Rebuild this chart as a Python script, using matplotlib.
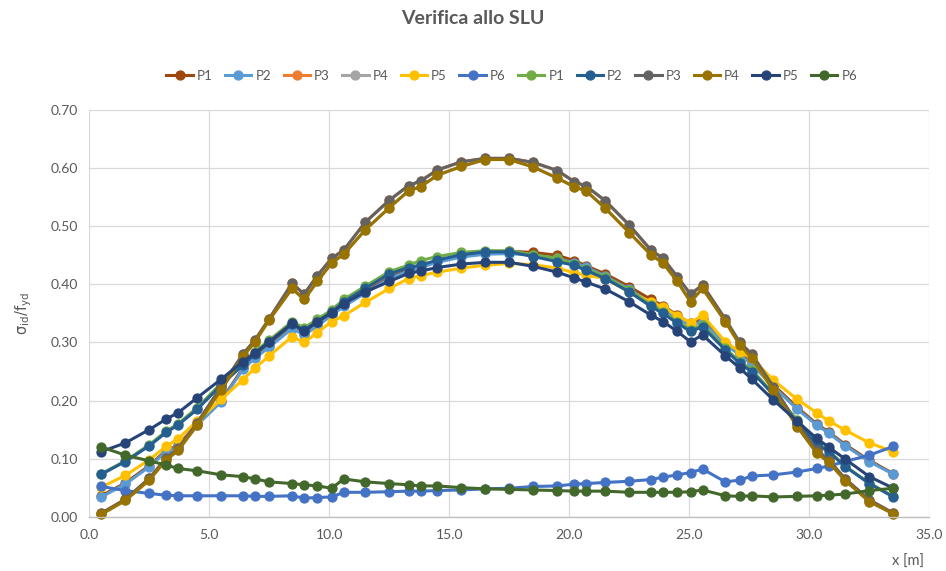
import matplotlib
matplotlib.use("Agg")
import matplotlib.pyplot as plt

plt.rcParams['font.family'] = ['Lato', 'DejaVu Sans']

# sezioni di verifica lungo la trave [m]
x = [0.5, 1.5, 2.5, 3.2, 3.7, 4.5, 5.5, 6.4, 6.9, 7.5, 8.45, 8.95, 9.5, 10.1, 10.6,
     11.5, 12.5, 13.3, 13.8, 14.5, 15.5, 16.5, 17.5, 18.5, 19.5, 20.2, 20.7, 21.5,
     22.5, 23.4, 23.9, 24.5, 25.05, 25.55, 26.5, 27.1, 27.6, 28.5, 29.5, 30.3, 30.8,
     31.5, 32.5, 33.5]

# prima serie di combinazioni
p1_a = [0.036, 0.058, 0.088, 0.114, 0.123, 0.160, 0.200, 0.256, 0.275, 0.294, 0.326,
        0.315, 0.330, 0.349, 0.364, 0.387, 0.412, 0.425, 0.431, 0.440, 0.449, 0.455,
        0.457, 0.455, 0.450, 0.441, 0.432, 0.418, 0.396, 0.374, 0.363, 0.347, 0.333,
        0.340, 0.299, 0.282, 0.265, 0.227, 0.188, 0.160, 0.146, 0.124, 0.097, 0.074]
p2_a = [0.034, 0.056, 0.086, 0.112, 0.121, 0.158, 0.198, 0.254, 0.273, 0.292, 0.324,
        0.313, 0.328, 0.347, 0.362, 0.385, 0.410, 0.423, 0.429, 0.438, 0.447, 0.452,
        0.453, 0.450, 0.445, 0.437, 0.430, 0.414, 0.392, 0.367, 0.357, 0.341, 0.329,
        0.336, 0.296, 0.279, 0.262, 0.224, 0.185, 0.158, 0.144, 0.122, 0.095, 0.073]
p5_a = [0.051, 0.071, 0.098, 0.121, 0.134, 0.165, 0.202, 0.236, 0.256, 0.277, 0.310,
        0.300, 0.317, 0.336, 0.346, 0.369, 0.393, 0.410, 0.415, 0.421, 0.428, 0.433,
        0.436, 0.434, 0.428, 0.420, 0.416, 0.410, 0.387, 0.370, 0.361, 0.346, 0.334,
        0.347, 0.301, 0.284, 0.273, 0.235, 0.202, 0.179, 0.165, 0.149, 0.127, 0.112]
p6_a = [0.052, 0.045, 0.040, 0.037, 0.036, 0.036, 0.036, 0.036, 0.035, 0.035, 0.036,
        0.032, 0.033, 0.034, 0.042, 0.042, 0.043, 0.044, 0.044, 0.045, 0.046, 0.048,
        0.049, 0.052, 0.053, 0.056, 0.057, 0.059, 0.061, 0.064, 0.068, 0.072, 0.076,
        0.082, 0.060, 0.063, 0.070, 0.072, 0.077, 0.083, 0.087, 0.095, 0.106, 0.121]

# P3 e P4 simmetriche: stessi valori nelle due serie
p3 = [0.006, 0.030, 0.066, 0.101, 0.118, 0.162, 0.224, 0.280, 0.304, 0.341, 0.402,
      0.383, 0.415, 0.445, 0.459, 0.507, 0.545, 0.570, 0.578, 0.597, 0.611, 0.617,
      0.617, 0.610, 0.596, 0.577, 0.569, 0.544, 0.502, 0.459, 0.445, 0.413, 0.383,
      0.399, 0.340, 0.300, 0.280, 0.224, 0.160, 0.115, 0.098, 0.065, 0.029, 0.006]
p4 = [0.004, 0.028, 0.063, 0.098, 0.114, 0.158, 0.219, 0.276, 0.301, 0.339, 0.393,
      0.374, 0.405, 0.437, 0.452, 0.494, 0.532, 0.561, 0.568, 0.588, 0.603, 0.615,
      0.615, 0.602, 0.583, 0.568, 0.561, 0.531, 0.489, 0.451, 0.437, 0.405, 0.370,
      0.393, 0.336, 0.296, 0.273, 0.218, 0.155, 0.110, 0.094, 0.062, 0.026, 0.005]

# seconda serie di combinazioni
p1_b = [0.074, 0.096, 0.124, 0.147, 0.160, 0.188, 0.230, 0.265, 0.284, 0.304, 0.336,
        0.325, 0.340, 0.356, 0.374, 0.397, 0.422, 0.433, 0.441, 0.448, 0.455, 0.458,
        0.458, 0.451, 0.445, 0.435, 0.427, 0.413, 0.390, 0.365, 0.353, 0.336, 0.322,
        0.330, 0.290, 0.267, 0.253, 0.212, 0.167, 0.127, 0.114, 0.087, 0.058, 0.035]
p2_b = [0.073, 0.095, 0.122, 0.145, 0.158, 0.185, 0.227, 0.261, 0.280, 0.300, 0.332,
        0.321, 0.336, 0.352, 0.370, 0.393, 0.418, 0.429, 0.433, 0.442, 0.451, 0.456,
        0.456, 0.448, 0.439, 0.433, 0.424, 0.410, 0.387, 0.362, 0.350, 0.333, 0.319,
        0.327, 0.287, 0.264, 0.250, 0.210, 0.162, 0.125, 0.112, 0.086, 0.057, 0.034]
p5_b = [0.112, 0.127, 0.150, 0.168, 0.179, 0.205, 0.237, 0.267, 0.282, 0.301, 0.333,
        0.319, 0.336, 0.351, 0.367, 0.387, 0.405, 0.419, 0.423, 0.429, 0.435, 0.438,
        0.438, 0.431, 0.421, 0.411, 0.404, 0.392, 0.370, 0.347, 0.336, 0.319, 0.301,
        0.313, 0.277, 0.256, 0.237, 0.201, 0.164, 0.135, 0.120, 0.099, 0.069, 0.049]
p6_b = [0.120, 0.106, 0.096, 0.089, 0.083, 0.079, 0.072, 0.069, 0.065, 0.060, 0.057,
        0.055, 0.053, 0.049, 0.065, 0.060, 0.057, 0.055, 0.053, 0.053, 0.050, 0.048,
        0.047, 0.046, 0.045, 0.044, 0.044, 0.044, 0.042, 0.042, 0.042, 0.042, 0.043,
        0.046, 0.036, 0.035, 0.036, 0.034, 0.035, 0.036, 0.037, 0.039, 0.045, 0.049]

labels = ['P1', 'P2', 'P3', 'P4', 'P5', 'P6'] * 2
series = [p1_a, p2_a, p3, p4, p5_a, p6_a, p1_b, p2_b, p3, p4, p5_b, p6_b]
colors = ['#9E480E', '#5B9BD5', '#ED7D31', '#A5A5A5', '#FFC000', '#4472C4',
          '#70AD47', '#255E91', '#636363', '#997300', '#264478', '#43682B']

grey_txt = '#595959'

fig = plt.figure(figsize=(9.46, 5.71), dpi=100)
ax = fig.add_axes([0.0944, 0.0951, 0.888, 0.712])

for vals, lab, col in zip(series, labels, colors):
    ax.plot(x, vals, '-o', color=col, lw=2.2, ms=6.4, label=lab, clip_on=False)

ax.set_xlim(0, 35)
ax.set_ylim(0, 0.70)
ax.set_xticks([i * 5.0 for i in range(8)])
ax.set_yticks([i * 0.1 for i in range(8)])
ax.xaxis.set_major_formatter(plt.FormatStrFormatter('%.1f'))
ax.yaxis.set_major_formatter(plt.FormatStrFormatter('%.2f'))
ax.tick_params(axis='both', length=0, labelsize=10, colors=grey_txt)
ax.tick_params(axis='y', pad=8)
ax.tick_params(axis='x', pad=9)
ax.grid(True, color='#D9D9D9', lw=0.9)
ax.set_axisbelow(True)
for side in ['top', 'right', 'left']:
    ax.spines[side].set_visible(False)
ax.spines['bottom'].set_color('#BFBFBF')
ax.spines['bottom'].set_linewidth(1.0)

ax.set_ylabel(r'$\mathrm{\sigma_{id}/f_{yd}}$', color=grey_txt, fontsize=10.5, labelpad=12)
fig.text(0.960, 0.004, 'x [m]', color=grey_txt, fontsize=10.5, ha='center', va='bottom')

fig.text(0.5, 0.968, 'Verifica allo SLU', ha='center', va='center',
         fontsize=14, fontweight='bold', color=grey_txt)

fig.legend(loc='center', bbox_to_anchor=(0.541, 0.867), ncol=12, frameon=False,
           fontsize=9.5, handlelength=2.0, handletextpad=0.3, columnspacing=0.95,
           labelcolor=grey_txt)

fig.savefig('out.png', dpi=100)
